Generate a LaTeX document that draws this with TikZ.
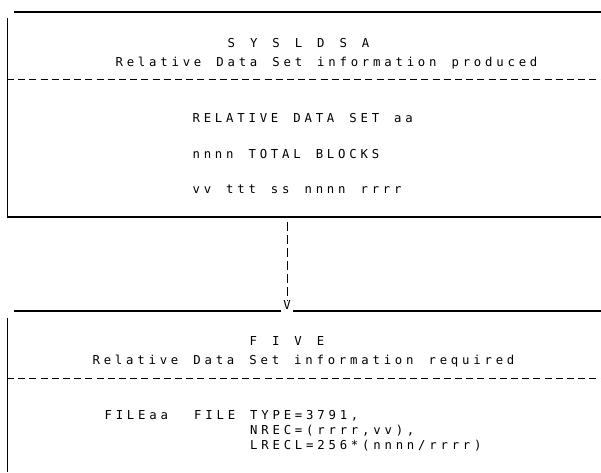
\documentclass[tikz,border=0pt]{standalone}
\usepackage{fontspec}
\newfontfamily\lpn{DejaVu Sans Mono}
\ExplSyntaxOn
\NewDocumentCommand \monoline { m }
 {
   \str_map_inline:nn { #1 }
     {
       \str_if_eq:nnTF { ##1 } { _ }
         { \hbox_to_wd:nn { 11.2pt } { } }
         { \hbox_to_wd:nn { 11.2pt } { \hfil ##1 \hfil } }
     }
 }
\ExplSyntaxOff
\begin{document}
\begin{tikzpicture}[x=1pt,y=-1pt,
  txt/.style={anchor=base west,inner sep=0pt,font=\lpn\fontsize{12.3}{14}\selectfont},
  vtxt/.style={anchor=south,inner sep=0pt,font=\lpn\fontsize{12.3}{14}\selectfont},
  frame/.style={line width=1.2pt},
  sidebar/.style={line width=1pt},
  sepline/.style={line width=0.9pt,dash pattern=on 7pt off 4.2pt},
  flow/.style={line width=1pt,dash pattern=on 9pt off 4pt}
]
\useasboundingbox (0,0) rectangle (601,472);
% upper box
\draw[frame] (14,12) -- (601,12);
\draw[sidebar] (7,18) -- (7,217);
\draw[frame] (7,217) -- (601,217);
\draw[sepline] (7,79) -- (601,79);
\node[txt] (h1) at (225.5,47) {\monoline{S Y S L D S A}};
\node[txt] (s1) at (113.5,66) {\monoline{Relative Data Set information produced}};
\node[txt] (r1) at (190.5,122) {\monoline{RELATIVE DATA SET aa}};
\node[txt] (r2) at (190.5,158) {\monoline{nnnn TOTAL BLOCKS}};
\node[txt] (r3) at (190.5,193) {\monoline{vv ttt ss nnnn rrrr}};
% connector
\coordinate (a0) at (287,222);
\node[vtxt] (v) at (287,310) {V};
\draw[flow] (a0) -- (v.north);
% lower box
\draw[frame] (14,311) -- (281,311);
\draw[frame] (293,311) -- (601,311);
\draw[sidebar] (7,318) -- (7,472);
\draw[sepline] (7,378) -- (601,378);
\node[txt] (h2) at (247.5,345) {\monoline{F I V E}};
\node[txt] (s2) at (90.5,364) {\monoline{Relative Data Set information required}};
\node[txt] (f1) at (102.5,419) {\monoline{FILEaa__FILE TYPE=3791,}};
\node[txt] (f2) at (248.1,434) {\monoline{NREC=(rrrr,vv),}};
\node[txt] (f3) at (248.1,449) {\monoline{LRECL=256*(nnnn/rrrr)}};
\end{tikzpicture}
\end{document}
